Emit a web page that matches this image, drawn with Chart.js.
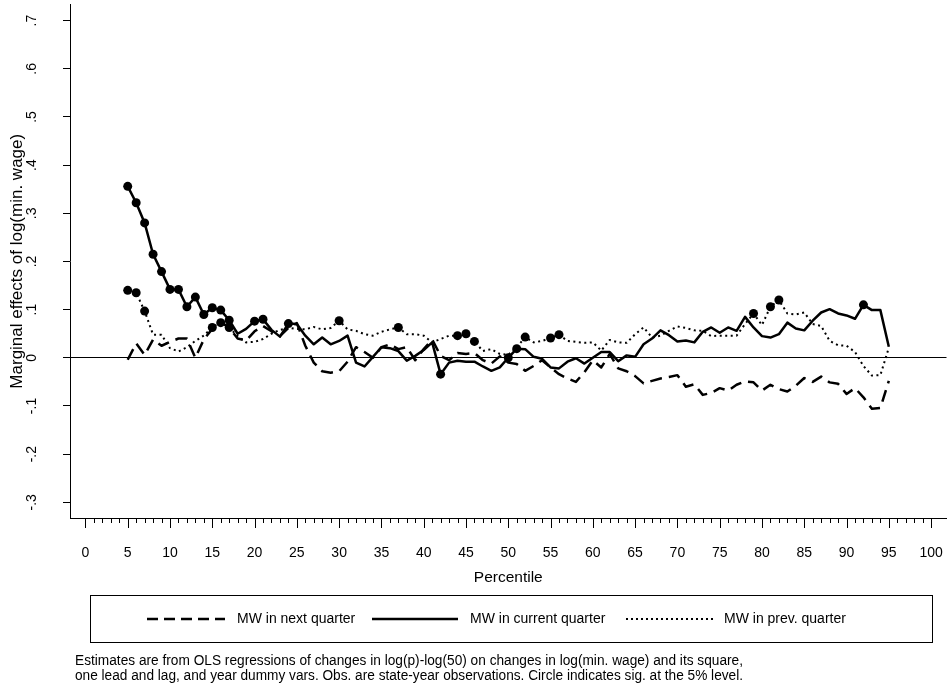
<!DOCTYPE html>
<html>
<head>
<meta charset="utf-8">
<script src="https://cdn.jsdelivr.net/npm/chart.js@4.4.1/dist/chart.umd.min.js"></script>
<style>
  html, body { margin: 0; padding: 0; background: #fff; }
</style>
</head>
<body>
<canvas id="grafico-mw" width="951" height="693"></canvas>
<script>
// Percentiles of the wage distribution
var percentiles = [5, 6, 7, 8, 9, 10, 11, 12, 13, 14, 15, 16, 17, 18, 19, 20, 21, 22, 23, 24, 25,
  26, 27, 28, 29, 30, 31, 32, 33, 34, 35, 36, 37, 38, 39, 40, 41, 42, 43, 44, 45, 46, 47, 48, 49, 50,
  51, 52, 53, 54, 55, 56, 57, 58, 59, 60, 61, 62, 63, 64, 65, 66, 67, 68, 69, 70, 71, 72, 73, 74, 75,
  76, 77, 78, 79, 80, 81, 82, 83, 84, 85, 86, 87, 88, 89, 90, 91, 92, 93, 94, 95];

// Marginal effects, MW in next quarter (lead)
var mwNext = [-0.004, 0.030, 0.006, 0.038, 0.025, 0.033, 0.040, 0.040, 0.000, 0.038, 0.060,
  0.075, 0.062, 0.040, 0.036, 0.055, 0.066, 0.055, 0.045, 0.062, 0.072, 0.025, -0.010, -0.028,
  -0.031, -0.028, -0.008, 0.022, 0.012, 0.000, 0.022, 0.028, 0.018, 0.022, -0.005, 0.018, 0.038,
  0.004, -0.005, 0.010, 0.008, 0.010, -0.005, -0.012, 0.003, -0.010, -0.013, -0.027, -0.017,
  -0.005, -0.020, -0.034, -0.043, -0.050, -0.030, -0.005, -0.020, 0.008, -0.022, -0.028, -0.038,
  -0.053, -0.048, -0.043, -0.040, -0.036, -0.060, -0.055, -0.077, -0.073, -0.063, -0.068, -0.056,
  -0.049, -0.051, -0.068, -0.056, -0.065, -0.070, -0.058, -0.042, -0.050, -0.039, -0.051, -0.054,
  -0.075, -0.063, -0.082, -0.106, -0.104, -0.048];

// Marginal effects, MW in current quarter
var mwCurrent = [0.356, 0.322, 0.280, 0.215, 0.179, 0.142, 0.142, 0.106, 0.126, 0.090, 0.104,
  0.099, 0.078, 0.050, 0.060, 0.076, 0.080, 0.058, 0.044, 0.071, 0.070, 0.046, 0.028, 0.042,
  0.028, 0.035, 0.046, -0.010, -0.018, 0.002, 0.022, 0.020, 0.014, -0.006, 0.004, 0.016, 0.032,
  -0.034, -0.010, -0.006, -0.008, -0.008, -0.018, -0.027, -0.020, 0.000, 0.019, 0.018, 0.002,
  -0.002, -0.020, -0.022, -0.008, -0.001, -0.012, 0.000, 0.012, 0.012, -0.007, 0.005, 0.002,
  0.028, 0.040, 0.057, 0.047, 0.034, 0.036, 0.032, 0.054, 0.063, 0.052, 0.063, 0.056, 0.085,
  0.063, 0.045, 0.042, 0.049, 0.073, 0.061, 0.057, 0.077, 0.094, 0.101, 0.092, 0.088, 0.081,
  0.110, 0.099, 0.099, 0.023];

// Marginal effects, MW in previous quarter (lag)
var mwPrev = [0.140, 0.135, 0.097, 0.048, 0.048, 0.020, 0.013, 0.022, 0.035, 0.046, 0.063,
  0.073, 0.063, 0.045, 0.032, 0.033, 0.039, 0.050, 0.058, 0.062, 0.060, 0.059, 0.064, 0.059,
  0.062, 0.077, 0.059, 0.056, 0.049, 0.046, 0.054, 0.059, 0.063, 0.049, 0.049, 0.046, 0.032,
  0.039, 0.046, 0.046, 0.050, 0.034, 0.014, 0.018, 0.008, 0.006, 0.022, 0.043, 0.032, 0.035,
  0.041, 0.048, 0.035, 0.033, 0.031, 0.032, 0.015, 0.037, 0.032, 0.031, 0.049, 0.063, 0.042,
  0.046, 0.056, 0.065, 0.062, 0.057, 0.056, 0.045, 0.046, 0.046, 0.046, 0.070, 0.092, 0.068,
  0.106, 0.120, 0.092, 0.090, 0.094, 0.070, 0.066, 0.035, 0.026, 0.025, 0.012, -0.017, -0.037,
  -0.036, 0.021];

// Percentiles where the estimate is significant at 5% (drawn with a circle)
var sigNext = [];
var sigCurrent = [5, 6, 7, 8, 9, 10, 11, 12, 13, 14, 15, 16, 17, 20, 21, 24, 42, 50, 51, 92];
var sigPrev = [5, 6, 7, 15, 16, 17, 30, 37, 44, 45, 46, 52, 55, 56, 79, 81, 82];

// Axis ticks
var xTicks = [0, 5, 10, 15, 20, 25, 30, 35, 40, 45, 50, 55, 60, 65, 70, 75, 80, 85, 90, 95, 100];
var yTicks = [-0.3, -0.2, -0.1, 0, 0.1, 0.2, 0.3, 0.4, 0.5, 0.6, 0.7];
var yTickLabels = ['-.3', '-.2', '-.1', '0', '.1', '.2', '.3', '.4', '.5', '.6', '.7'];

var fuente = '"Liberation Sans", Arial, Helvetica, sans-serif';

function puntos(valores) {
  return percentiles.map(function (p, i) { return { x: p, y: valores[i] }; });
}

function radioSig(lista) {
  return function (ctx) {
    return lista.indexOf(percentiles[ctx.dataIndex]) >= 0 ? 4.5 : 0;
  };
}

// Minor ticks on the x axis, rotated y labels, legend box and note
var extras = {
  id: 'extras',
  afterDraw: function (chart) {
    var ctx = chart.ctx;
    var sx = chart.scales.x, sy = chart.scales.y;
    var base = chart.chartArea.bottom;
    ctx.save();
    ctx.strokeStyle = '#000';
    ctx.lineWidth = 1;
    for (var v = 0; v <= 100; v++) {
      var px = Math.round(sx.getPixelForValue(v)) + 0.5;
      ctx.beginPath();
      ctx.moveTo(px, base);
      ctx.lineTo(px, base + (v % 5 === 0 ? 10 : 5));
      ctx.stroke();
    }

    ctx.fillStyle = '#000';
    ctx.font = '14px ' + fuente;
    ctx.textAlign = 'center';
    ctx.textBaseline = 'middle';
    yTicks.forEach(function (t, i) {
      ctx.save();
      ctx.translate(32, sy.getPixelForValue(t));
      ctx.rotate(-Math.PI / 2);
      ctx.fillText(yTickLabels[i], 0, 0);
      ctx.restore();
    });

    // legend
    ctx.lineWidth = 1;
    ctx.strokeRect(90.5, 595.5, 842, 47);
    var ly = 619;
    var claves = [
      { x0: 147, x1: 225, tx: 237, dash: [11, 6], w: 2.5, txt: 'MW in next quarter' },
      { x0: 372, x1: 458, tx: 470, dash: [], w: 2.5, txt: 'MW in current quarter' },
      { x0: 626, x1: 713, tx: 724, dash: [2, 3], w: 2, txt: 'MW in prev. quarter' }
    ];
    ctx.font = '14px ' + fuente;
    ctx.textAlign = 'left';
    claves.forEach(function (c) {
      ctx.beginPath();
      ctx.setLineDash(c.dash);
      ctx.lineWidth = c.w;
      ctx.moveTo(c.x0, ly);
      ctx.lineTo(c.x1, ly);
      ctx.stroke();
      ctx.fillText(c.txt, c.tx, ly);
    });
    ctx.setLineDash([]);

    ctx.font = '14px ' + fuente;
    ctx.fillText('Estimates are from OLS regressions of changes in log(p)-log(50) on changes in log(min. wage) and its square,', 75, 661, 668);
    ctx.fillText('one lead and lag, and year dummy vars. Obs. are state-year observations. Circle indicates sig. at the 5% level.', 75, 676, 668);
    ctx.restore();
  }
};

var ctx = document.getElementById('grafico-mw').getContext('2d');

var config = {
  type: 'line',
  data: {
    datasets: [
      {
        label: 'MW in next quarter',
        data: puntos(mwNext),
        borderColor: '#000',
        borderWidth: 2.5,
        borderDash: [12, 7],
        pointRadius: radioSig(sigNext),
        pointBackgroundColor: '#000',
        pointBorderWidth: 0
      },
      {
        label: 'MW in current quarter',
        data: puntos(mwCurrent),
        borderColor: '#000',
        borderWidth: 2.5,
        pointRadius: radioSig(sigCurrent),
        pointBackgroundColor: '#000',
        pointBorderWidth: 0
      },
      {
        label: 'MW in prev. quarter',
        data: puntos(mwPrev),
        borderColor: '#000',
        borderWidth: 2,
        borderDash: [2, 3.5],
        pointRadius: radioSig(sigPrev),
        pointBackgroundColor: '#000',
        pointBorderWidth: 0
      }
    ]
  },
  options: {
    responsive: false,
    animation: false,
    devicePixelRatio: 1,
    layout: { padding: { top: 2, right: 0, bottom: 0, left: 0 } },
    elements: { line: { tension: 0, borderJoinStyle: 'round' } },
    plugins: { legend: { display: false }, tooltip: { enabled: false } },
    scales: {
      x: {
        type: 'linear',
        min: -1.824,
        max: 101.82,
        afterBuildTicks: function (s) { s.ticks = xTicks.map(function (v) { return { value: v }; }); },
        afterFit: function (s) { s.height = 175; s.paddingLeft = 0; s.paddingRight = 0; },
        grid: { display: false },
        border: { display: true, color: '#000', width: 1 },
        ticks: {
          color: '#000',
          font: { family: fuente, size: 14 },
          padding: 19,
          maxRotation: 0,
          autoSkip: false
        },
        title: {
          display: true,
          text: 'Percentile',
          color: '#000',
          font: { family: fuente, size: 15.5 },
          padding: { top: 0, bottom: 106 }
        }
      },
      y: {
        type: 'linear',
        min: -0.3326,
        max: 0.7335,
        afterBuildTicks: function (s) { s.ticks = yTicks.map(function (v) { return { value: v }; }); },
        afterFit: function (s) { s.width = 70; },
        grid: {
          drawOnChartArea: true,
          drawTicks: true,
          tickLength: 7,
          tickColor: '#000',
          lineWidth: 1,
          color: function (c) { return c.tick && c.tick.value === 0 ? '#000' : 'rgba(0,0,0,0)'; }
        },
        border: { display: true, color: '#000', width: 1 },
        ticks: { display: false },
        title: {
          display: true,
          text: 'Marginal effects of log(min. wage)',
          color: '#000',
          font: { family: fuente, size: 17 },
          padding: { top: 7, bottom: 0 }
        }
      }
    }
  },
  plugins: [extras]
};

var graficoMW = new Chart(ctx, config);
</script>
</body>
</html>
